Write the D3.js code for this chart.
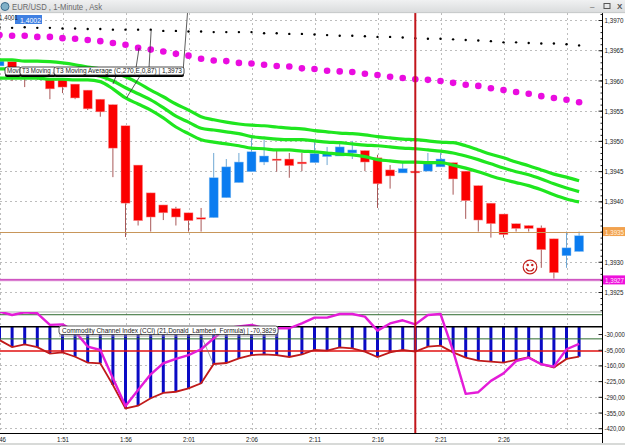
<!DOCTYPE html>
<html>
<head>
<meta charset="utf-8">
<style>
html,body{margin:0;padding:0;background:#fff;overflow:hidden}
svg{display:block}
text{font-family:"Liberation Sans",Arial,sans-serif}
</style>
<script src="https://cdn.jsdelivr.net/npm/d3@7"></script>
</head>
<body>
<svg id="chart" width="625" height="445"></svg>
<script>
// EUR/USD one-minute candles, minute 0 = 1:46
const opens  = [1.39624,1.39631,1.39617,1.39609,1.39601,1.39601,1.39594,1.39584,1.39569,1.39560,1.39525,1.39460,1.39414,1.39394,1.39388,1.39381,1.39373,1.39373,1.39406,1.39431,1.39449,1.39465,1.39470,1.39470,1.39465,1.39464,1.39474,1.39475,1.39480,1.39484,1.39472,1.39452,1.39447,1.39450,1.39450,1.39457,1.39464,1.39450,1.39426,1.39397,1.39379,1.39363,1.39360,1.39356,1.39338,1.39310,1.39317];
const highs  = [1.39634,1.39631,1.39620,1.39611,1.39604,1.39601,1.39594,1.39584,1.39569,1.39560,1.39525,1.39460,1.39414,1.39394,1.39391,1.39381,1.39389,1.39480,1.39470,1.39480,1.39507,1.39502,1.39485,1.39480,1.39480,1.39498,1.39490,1.39497,1.39500,1.39484,1.39477,1.39460,1.39465,1.39450,1.39480,1.39480,1.39464,1.39450,1.39426,1.39397,1.39379,1.39363,1.39360,1.39360,1.39338,1.39350,1.39350];
const lows   = [1.39617,1.39599,1.39589,1.39601,1.39569,1.39579,1.39569,1.39551,1.39540,1.39440,1.39341,1.39360,1.39350,1.39369,1.39360,1.39350,1.39350,1.39373,1.39406,1.39431,1.39449,1.39460,1.39449,1.39439,1.39450,1.39464,1.39460,1.39475,1.39470,1.39450,1.39389,1.39421,1.39447,1.39447,1.39450,1.39457,1.39411,1.39371,1.39350,1.39340,1.39340,1.39350,1.39350,1.39290,1.39270,1.39290,1.39317];
const closes = [1.39632,1.39617,1.39607,1.39604,1.39586,1.39589,1.39571,1.39553,1.39548,1.39488,1.39397,1.39368,1.39374,1.39381,1.39374,1.39368,1.39372,1.39439,1.39457,1.39465,1.39482,1.39475,1.39469,1.39459,1.39462,1.39479,1.39479,1.39490,1.39485,1.39465,1.39429,1.39442,1.39454,1.39447,1.39464,1.39470,1.39437,1.39401,1.39369,1.39363,1.39345,1.39355,1.39355,1.39320,1.39282,1.39323,1.39343];

// T3 moving-average band
const t3Upper = [1.39634,1.39634,1.39632,1.39632,1.39631,1.39629,1.39626,1.39622,1.39619,1.39614,1.39606,1.39596,1.39584,1.39573,1.39561,1.39551,1.39540,1.39535,1.39531,1.39528,1.39526,1.39525,1.39523,1.39521,1.39520,1.39517,1.39515,1.39513,1.39512,1.39510,1.39507,1.39505,1.39503,1.39502,1.39500,1.39498,1.39497,1.39492,1.39485,1.39478,1.39472,1.39465,1.39459,1.39452,1.39445,1.39440,1.39434];
const t3Middle = [1.39619,1.39619,1.39617,1.39617,1.39616,1.39614,1.39612,1.39611,1.39607,1.39599,1.39588,1.39578,1.39568,1.39555,1.39541,1.39531,1.39521,1.39518,1.39515,1.39512,1.39507,1.39505,1.39503,1.39502,1.39502,1.39500,1.39498,1.39497,1.39495,1.39493,1.39492,1.39490,1.39488,1.39487,1.39485,1.39483,1.39480,1.39475,1.39469,1.39462,1.39455,1.39449,1.39444,1.39437,1.39429,1.39422,1.39416];
const t3Lower = [1.39604,1.39604,1.39604,1.39604,1.39602,1.39602,1.39601,1.39601,1.39598,1.39586,1.39571,1.39561,1.39551,1.39538,1.39523,1.39512,1.39502,1.39498,1.39495,1.39492,1.39488,1.39487,1.39485,1.39485,1.39483,1.39482,1.39480,1.39478,1.39477,1.39474,1.39469,1.39467,1.39465,1.39465,1.39464,1.39464,1.39460,1.39455,1.39449,1.39442,1.39436,1.39431,1.39426,1.39419,1.39411,1.39404,1.39399];

// Slow moving averages plotted as dots
const maMagenta = [1.39675,1.39674,1.39674,1.39672,1.39672,1.39670,1.39669,1.39667,1.39665,1.39662,1.39659,1.39654,1.39651,1.39648,1.39644,1.39641,1.39636,1.39633,1.39632,1.39629,1.39628,1.39626,1.39624,1.39623,1.39620,1.39619,1.39616,1.39615,1.39614,1.39611,1.39609,1.39606,1.39604,1.39602,1.39601,1.39599,1.39596,1.39593,1.39591,1.39587,1.39584,1.39581,1.39578,1.39574,1.39571,1.39568,1.39564];
const maBlack = [1.39688,1.39687,1.39688,1.39687,1.39687,1.39686,1.39686,1.39685,1.39685,1.39684,1.39684,1.39684,1.39684,1.39682,1.39682,1.39681,1.39681,1.39680,1.39680,1.39680,1.39680,1.39678,1.39678,1.39677,1.39677,1.39676,1.39675,1.39674,1.39674,1.39673,1.39672,1.39672,1.39671,1.39670,1.39669,1.39669,1.39668,1.39667,1.39666,1.39665,1.39663,1.39663,1.39662,1.39661,1.39661,1.39660,1.39658];

// Commodity Channel Index: histogram values and its fast companion line
const cciBars = [-55,-84,-73,-84,-111,-106,-124,-148,-151,-241,-338,-327,-296,-274,-269,-255,-234,-154,-150,-131,-117,-114,-117,-125,-114,-96,-99,-85,-89,-103,-125,-106,-96,-103,-82,-78,-106,-128,-140,-144,-148,-137,-126,-155,-169,-133,-124];
const cciFast = [63,49,60,56,8,10,-20,-82,-96,-213,-328,-262,-197,-151,-133,-117,-93,-48,-6,1,8,-6,-6,-6,14,38,38,53,53,42,-16,14,27,10,49,53,-100,-278,-271,-224,-193,-142,-128,-155,-165,-93,-71];
const cciLevels = [50,-50];

// Axis ticks and annotated prices
const priceTicks = [1.3970,1.3965,1.3960,1.3955,1.3950,1.3945,1.3940,1.3930,1.3925];
const priceGrid = [1.3970,1.3965,1.3960,1.3955,1.3950,1.3945,1.3940,1.3930,1.3925];
const cciTicks = [-30,-95,-160,-225,-290,-355,-420];
const minuteTicks = [0,5,10,15,20,25,30,35,40,45];
const minuteLabels = ["1:46","1:51","1:56","2:01","2:06","2:11","2:16","2:21","2:26",""];
const tanPrice = 1.3935, magentaPrice = 1.3927, markerMinute = 33;

const svg = d3.select("#chart");
const plotRight = 602, plotTop = 13, plotBottom = 433, paneSplit = 312;

const x = d3.scaleLinear().domain([0,5]).range([-0.5,62.5]);
const y = d3.scaleLinear().domain([1.3970,1.3925]).range([20,292]);
const yC = d3.scaleLinear().domain([0,-420]).range([326.8,428.2]);
const minutes = d3.range(opens.length);

const defs = svg.append("defs");
const hg = defs.append("linearGradient").attr("id","head").attr("x2",0).attr("y2",1);
hg.append("stop").attr("offset",0).attr("stop-color","#f0f1f2");
hg.append("stop").attr("offset",1).attr("stop-color","#d9dbdc");
const clip = defs.append("clipPath").attr("id","pane");
clip.append("rect").attr("x",0).attr("y",plotTop).attr("width",plotRight).attr("height",paneSplit-plotTop);
const clip2 = defs.append("clipPath").attr("id","pane2");
clip2.append("rect").attr("x",0).attr("y",paneSplit).attr("width",plotRight).attr("height",plotBottom-paneSplit);

// Grid
const grid = svg.append("g").attr("stroke","#bdbdbd").attr("stroke-dasharray","2,3").attr("stroke-width",1);
grid.selectAll(".v").data(minuteTicks).join("line")
  .attr("x1",d=>Math.round(x(d))+.5).attr("x2",d=>Math.round(x(d))+.5)
  .attr("y1",plotTop).attr("y2",plotBottom);
grid.selectAll(".h").data(priceGrid).join("line")
  .attr("x1",0).attr("x2",plotRight)
  .attr("y1",d=>Math.round(y(d))+.5).attr("y2",d=>Math.round(y(d))+.5);
grid.selectAll(".c").data(cciTicks.slice(2)).join("line")
  .attr("x1",0).attr("x2",plotRight)
  .attr("y1",d=>Math.round(yC(d))+.5).attr("y2",d=>Math.round(yC(d))+.5);

// Price pane
const main = svg.append("g").attr("clip-path","url(#pane)");
const up = i => closes[i] >= opens[i];
main.selectAll(".wick").data(minutes).join("line")
  .attr("x1",i=>x(i)).attr("x2",i=>x(i))
  .attr("y1",i=>y(highs[i])).attr("y2",i=>y(lows[i]))
  .attr("stroke",i=>up(i)?"#6fa8d4":"#a85858").attr("stroke-width",1);
main.selectAll(".body").data(minutes).join("rect")
  .attr("x",i=>x(i)-4.5).attr("width",9)
  .attr("y",i=>y(Math.max(opens[i],closes[i])))
  .attr("height",i=>Math.max(1.5,Math.abs(y(opens[i])-y(closes[i]))))
  .attr("fill",i=>up(i)?"#0a7cf0":"#fb0000")
  .attr("stroke",i=>up(i)?"#8cc0f0":"#f8a0a0").attr("stroke-width",.5);

main.append("line").attr("x1",0).attr("x2",plotRight).attr("y1",Math.round(y(tanPrice))+.5).attr("y2",Math.round(y(tanPrice))+.5)
  .attr("stroke","#c8965a").attr("stroke-width",1);
main.append("line").attr("x1",0).attr("x2",plotRight).attr("y1",y(magentaPrice)).attr("y2",y(magentaPrice))
  .attr("stroke","#f0d0ec").attr("stroke-width",3);
main.append("line").attr("x1",0).attr("x2",plotRight).attr("y1",y(magentaPrice)).attr("y2",y(magentaPrice))
  .attr("stroke","#c42cb4").attr("stroke-width",1.4);

const priceLine = d3.line().x((d,i)=>x(i)).y(d=>y(d)).curve(d3.curveMonotoneX);
[t3Upper,t3Middle,t3Lower].forEach(s=>{
  main.append("path").attr("d",priceLine(s)).attr("fill","none")
    .attr("stroke","#1fe61f").attr("stroke-width",3.2).attr("stroke-linejoin","round");
});
main.selectAll(".dotM").data(maMagenta).join("circle")
  .attr("cx",(d,i)=>x(i)).attr("cy",d=>y(d)).attr("r",3.3).attr("fill","#ea0ce0");
main.selectAll(".dotK").data(maBlack).join("circle")
  .attr("cx",(d,i)=>x(i)).attr("cy",d=>y(d)).attr("r",1.2).attr("fill","#000");

// Leader lines from hovered series to their tooltips
const leaders = main.append("g").attr("stroke","#333").attr("stroke-width",.8);
leaders.append("line").attr("x1",187.5).attr("y1",plotTop).attr("x2",183).attr("y2",72);
leaders.append("line").attr("x1",x(12)+.5).attr("y1",y(maBlack[12])).attr("x2",149).attr("y2",68);
leaders.append("line").attr("x1",x(11)+1).attr("y1",y(maMagenta[11])).attr("x2",136).attr("y2",68);
leaders.append("line").attr("x1",x(10)+1).attr("y1",y(t3Lower[10])).attr("x2",140).attr("y2",76);
leaders.append("line").attr("x1",113).attr("y1",84).attr("x2",116).attr("y2",76);

// Smiley note on the chart
const smile = svg.append("g").attr("transform","translate(530,267)")
  .attr("fill","none").attr("stroke","#c4201c").attr("stroke-width",1.2);
smile.append("circle").attr("r",6.8);
smile.append("path").attr("d",d3.arc()({innerRadius:4,outerRadius:4,startAngle:Math.PI*0.6,endAngle:Math.PI*1.4}));
smile.append("circle").attr("cx",-2.3).attr("cy",-2).attr("r",.6).attr("fill","#c4201c");
smile.append("circle").attr("cx",2.3).attr("cy",-2).attr("r",.6).attr("fill","#c4201c");

// Indicator pane
svg.append("rect").attr("x",0).attr("y",paneSplit-1).attr("width",plotRight).attr("height",2).attr("fill","#d6dcd6");
const ind = svg.append("g").attr("clip-path","url(#pane2)");
ind.selectAll(".bar").data(cciBars).join("line")
  .attr("x1",(d,i)=>x(i)).attr("x2",(d,i)=>x(i))
  .attr("y1",yC(0)).attr("y2",d=>yC(d))
  .attr("stroke","#0a0ac4").attr("stroke-width",3);
ind.selectAll(".lvl").data(cciLevels).join("line")
  .attr("x1",0).attr("x2",plotRight).attr("y1",d=>yC(d)).attr("y2",d=>yC(d))
  .attr("stroke","#2d6b2d").attr("stroke-width",1);
ind.append("line").attr("x1",0).attr("x2",plotRight).attr("y1",yC(0)).attr("y2",yC(0))
  .attr("stroke","#000").attr("stroke-width",1.6);
ind.append("line").attr("x1",0).attr("x2",plotRight).attr("y1",yC(-100)).attr("y2",yC(-100))
  .attr("stroke","#e01010").attr("stroke-width",1.6);
const cciLine = d3.line().x((d,i)=>x(i)).y(d=>yC(d));
ind.append("path").attr("d",cciLine(cciBars)).attr("fill","none").attr("stroke","#c01a1a").attr("stroke-width",1.8);
ind.append("path").attr("d",cciLine(cciFast)).attr("fill","none").attr("stroke","#e41cd8").attr("stroke-width",2.4).attr("stroke-linejoin","round");
ind.append("line").attr("x1",203).attr("y1",340).attr("x2",213).attr("y2",363).attr("stroke","#777").attr("stroke-width",.7);

// Cursor line
svg.append("line").attr("x1",x(markerMinute)).attr("x2",x(markerMinute)).attr("y1",plotTop).attr("y2",plotBottom)
  .attr("stroke","#c2151a").attr("stroke-width",2);

// Axes
const commaFix = (v,n)=>v.toFixed(n).replace(".",",");
const styleAxis = g=>{
  g.select(".domain").attr("stroke","#000");
  g.selectAll("line").attr("stroke","#222");
  g.selectAll("text").attr("fill","#222").attr("font-size",8);
};
const priceAxis = d3.axisRight(y).tickValues(priceTicks).tickSize(-4).tickPadding(2).tickSizeOuter(0).tickFormat(d=>commaFix(d,4));
svg.append("g").attr("transform",`translate(${plotRight}.5,0)`).call(priceAxis).call(styleAxis)
  .call(g=>g.select(".domain").remove())
  .call(g=>g.selectAll("text").attr("textLength",19).attr("lengthAdjust","spacingAndGlyphs"));
const minorTicks = d3.range(1.3926,1.39745,0.0001).concat(d3.range(1.3910,1.3925,0.0001));
svg.append("g").attr("transform",`translate(${plotRight}.5,0)`)
  .call(d3.axisLeft(y).tickValues(minorTicks.filter(d=>y(d)<paneSplit)).tickSize(2).tickFormat("").tickSizeOuter(0))
  .call(styleAxis).call(g=>g.select(".domain").remove());
const cciAxis = d3.axisRight(yC).tickValues(cciTicks).tickSize(-4).tickPadding(2).tickSizeOuter(0).tickFormat(d=>commaFix(d,3));
svg.append("g").attr("transform",`translate(${plotRight}.5,0)`).call(cciAxis).call(styleAxis)
  .call(g=>g.select(".domain").remove())
  .call(g=>g.selectAll("text").attr("lengthAdjust","spacingAndGlyphs").attr("textLength",function(){return this.textContent.length*2.9;}));
svg.append("line").attr("x1",plotRight+.5).attr("x2",plotRight+.5).attr("y1",plotTop).attr("y2",443).attr("stroke","#000");
const timeAxis = d3.axisBottom(x).tickValues(minuteTicks).tickSize(0).tickPadding(3).tickFormat((d,i)=>minuteLabels[i]);
svg.append("g").attr("transform",`translate(0,${plotBottom}.5)`).call(timeAxis).call(styleAxis)
  .call(g=>g.select(".domain").remove())
  .call(g=>g.selectAll("text").attr("textLength",12).attr("lengthAdjust","spacingAndGlyphs"));
svg.append("line").attr("x1",0).attr("x2",plotRight).attr("y1",plotBottom+.5).attr("y2",plotBottom+.5).attr("stroke","#000");
svg.append("rect").attr("x",0).attr("y",443).attr("width",625).attr("height",2).attr("fill","#d8dad8");

// Price flags on the right edge
function flag(price,fill,ink){
  const cy = y(price);
  svg.append("rect").attr("x",plotRight+1).attr("y",cy-4.5).attr("width",22).attr("height",9).attr("fill",fill);
  svg.append("text").attr("x",plotRight+3).attr("y",cy+3).attr("font-size",8).attr("fill",ink)
    .attr("textLength",19).attr("lengthAdjust","spacingAndGlyphs").text(commaFix(price,4));
}
flag(tanPrice,"#f2a24e","#fff3e0");
flag(magentaPrice,"#ee10dc","#ffe8fc");

// Title bar
svg.append("rect").attr("x",0).attr("y",0).attr("width",625).attr("height",13).attr("fill","url(#head)");
svg.append("rect").attr("x",0).attr("y",12.5).attr("width",625).attr("height",.6).attr("fill","#b8bcbc");
svg.append("circle").attr("cx",5).attr("cy",6.5).attr("r",4).attr("fill","#7fb0c8").attr("stroke","#3c6c8c").attr("stroke-width",1);
svg.append("text").attr("x",12).attr("y",10).attr("font-size",9).attr("fill","#6a6a6a")
  .attr("textLength",90).attr("lengthAdjust","spacingAndGlyphs").text("EUR/USD , 1-Minute , Ask");
svg.append("text").attr("x",590).attr("y",9).attr("font-size",8).attr("fill","#555").text("–");
svg.append("rect").attr("x",604).attr("y",3.5).attr("width",6).attr("height",5).attr("fill","none").attr("stroke","#555");
svg.append("text").attr("x",617).attr("y",9).attr("font-size",8).attr("font-weight","bold").attr("fill","#555").text("X");

// Crosshair readout near the top-left corner
svg.append("rect").attr("x",15).attr("y",15).attr("width",27).attr("height",9).attr("fill","#3f80e2");
svg.append("text").attr("x",-1).attr("y",20).attr("font-size",8).attr("fill","#222")
  .attr("textLength",19).attr("lengthAdjust","spacingAndGlyphs").text("1,4001");
svg.append("text").attr("x",20).attr("y",22.5).attr("font-size",8).attr("fill","#fff")
  .attr("textLength",21).attr("lengthAdjust","spacingAndGlyphs").text("1,4002");

// Tooltips
function tip(px,py,w,h,label,textW){
  svg.append("rect").attr("x",px).attr("y",py+2).attr("width",w).attr("height",h).attr("rx",2).attr("fill","#000");
  svg.append("rect").attr("x",px).attr("y",py).attr("width",w).attr("height",h).attr("rx",2)
    .attr("fill","#fff").attr("stroke","#222").attr("stroke-width",.8);
  svg.append("text").attr("x",px+2).attr("y",py+h-2).attr("font-size",8).attr("fill","#222")
    .attr("textLength",textW).attr("lengthAdjust","spacingAndGlyphs").text(label);
}
tip(5,67,16,8,"Movi",13);
tip(20,67,36,8,"T3 Moving ,",32);
tip(54,67,130,8,"T3 Moving Average (C,270,E,0,87) | 1,3973",126);
svg.append("rect").attr("x",59).attr("y",326).attr("width",219).attr("height",11).attr("fill","#999").attr("opacity",.45);
svg.append("rect").attr("x",59).attr("y",326).attr("width",219).attr("height",8.5).attr("rx",2.5)
  .attr("fill","#fff").attr("stroke","#333").attr("stroke-width",.8);
svg.append("text").attr("x",62).attr("y",332.8).attr("font-size",8).attr("fill","#222")
  .attr("textLength",214).attr("lengthAdjust","spacingAndGlyphs")
  .text("Commodity Channel Index (CCI) (21,Donald_Lambert_Formula) | -70,3829");
</script>
</body>
</html>
